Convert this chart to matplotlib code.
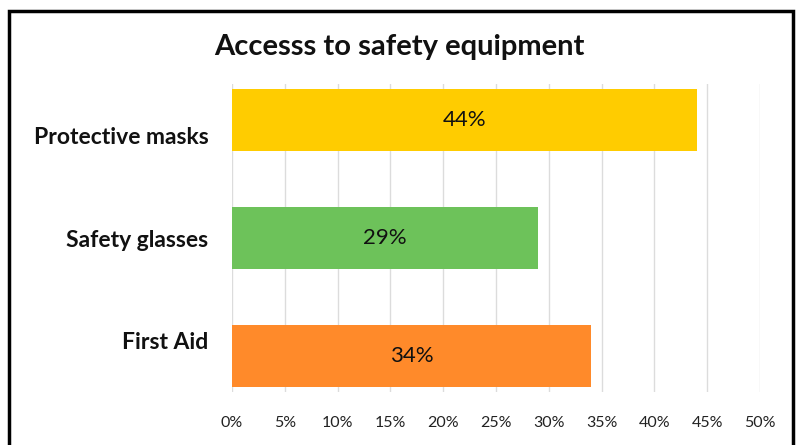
import matplotlib
matplotlib.use("Agg")
import matplotlib.pyplot as plt
from matplotlib.patches import Rectangle
import numpy as np

categories = ["Protective masks", "Safety glasses", "First Aid"]
values = [44, 29, 34]
colors = ["#FFCC00", "#6DC25A", "#FF8A2A"]
xticks = [0, 5, 10, 15, 20, 25, 30, 35, 40, 45, 50]
title = "Accesss to safety equipment"

plt.rcParams['font.family'] = ['Lato', 'DejaVu Sans']

fig = plt.figure(figsize=(7.97, 4.45), dpi=100)
ax = fig.add_axes([232/797, 1-392/445, (760-232)/797, (392-84)/445])

n = len(categories)
pos = np.arange(n)
spread = 1.146
bar_pos = (pos - (n-1)/2) * spread + (n-1)/2
ax.barh(bar_pos, values, height=0.604, color=colors, zorder=3)
for y, v in zip(bar_pos, values):
    ax.text(v/2, y, f"{v}%", ha='center', va='center', fontsize=16, color='#111111', zorder=4)

ax.set_xlim(0, 50)
ax.set_ylim(n-0.5, -0.5)
ax.set_xticks(xticks)
ax.set_xticklabels([f"{t}%" for t in xticks], fontsize=11.5, color='#222222')
ax.set_yticks(pos)
ax.set_yticklabels(categories, fontsize=16.5, fontweight='bold', color='#111111')
ax.tick_params(axis='both', length=0)
ax.tick_params(axis='x', pad=17)
ax.tick_params(axis='y', pad=17)
ax.grid(axis='x', color='#DCDCDC', linewidth=1, zorder=0)
for s in ax.spines.values():
    s.set_visible(False)

fig.text(399/797, 1-47/445, title, ha='center', va='center', fontsize=21, fontweight='bold', color='#111111')

fig.patches.append(Rectangle((9/797, -0.05), (793-9)/797, 1-11/445+0.05, transform=fig.transFigure,
                             fill=False, edgecolor='black', linewidth=2.5))

fig.savefig("out.png", dpi=100)
